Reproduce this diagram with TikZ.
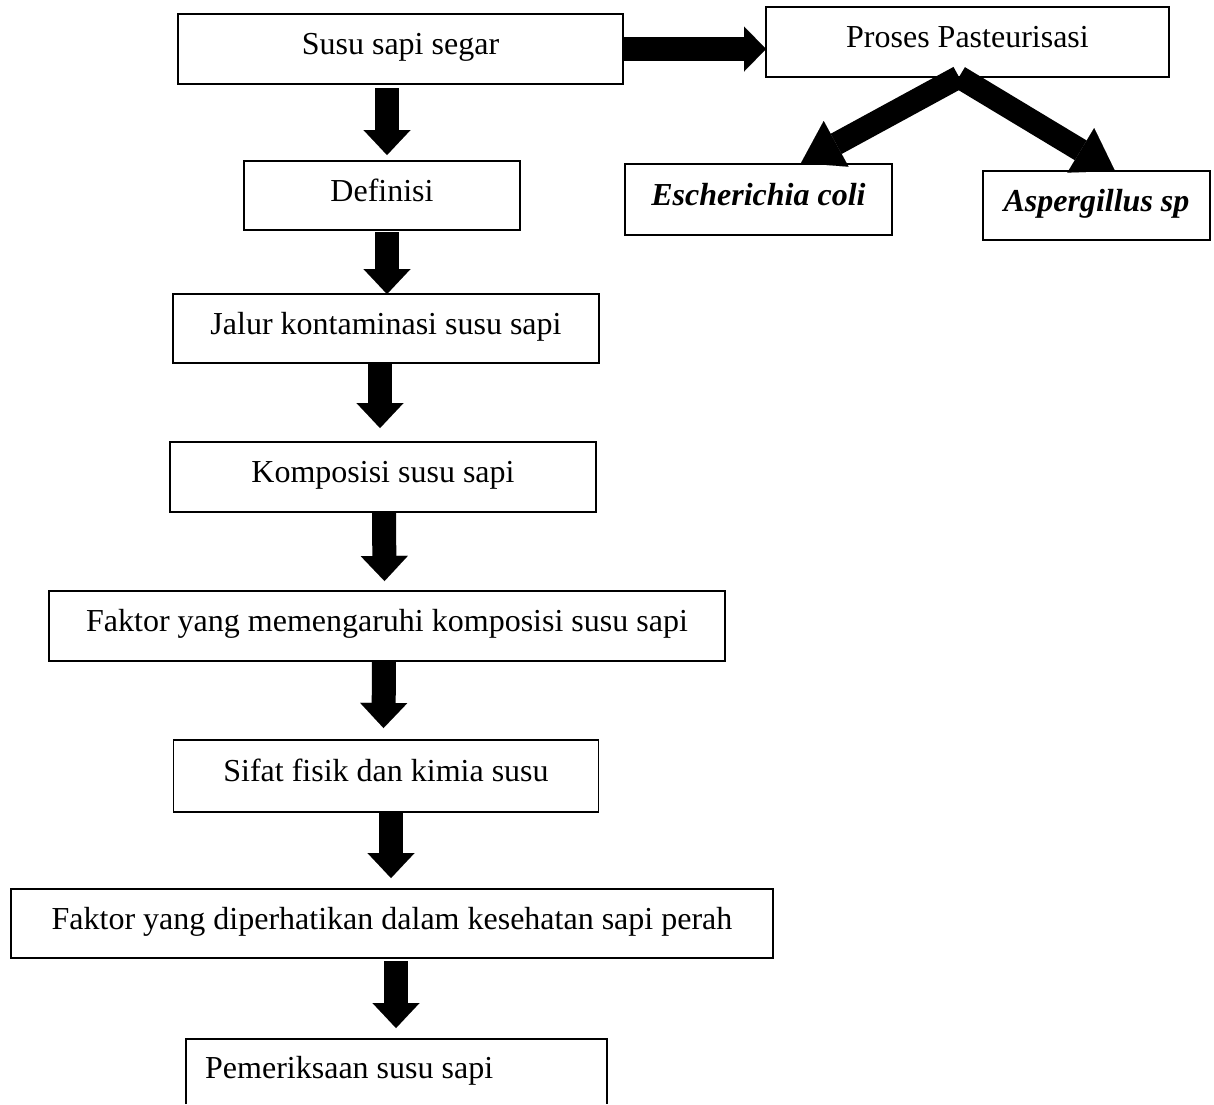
\documentclass[tikz,border=0pt]{standalone}
\usepackage{fontspec}
\setmainfont{Liberation Serif}
\usetikzlibrary{arrows.meta}
\begin{document}
\begin{tikzpicture}[x=1pt,y=-1pt,
  txt/.style={font=\fontsize{32}{38}\selectfont},
  box/.style={txt, draw=black, line width=1.3pt, inner sep=0pt, outer sep=0pt, text height=20pt, text depth=9pt},
  blk/.style={line width=24pt, -{Triangle[width=47pt,length=25pt,line width=0.01pt]}},
  diag/.style={line width=23pt, -{Triangle[width=52pt,length=40pt,line width=0.01pt]}}]
\useasboundingbox[fill=white] (0,0) rectangle (1214,1104);

\node[box, minimum width=445pt, minimum height=70pt] (susu) at (400.5,49) {Susu sapi segar};
\node[box, minimum width=403pt, minimum height=70pt] (proses) at (967.5,42) {Proses Pasteurisasi};
\node[box, minimum width=276pt, minimum height=69pt] (def) at (382,195.5) {Definisi};
\node[box, minimum width=267pt, minimum height=71pt] (eco) at (758.5,199.5) {\bfseries\itshape Escherichia coli};
\node[box, minimum width=227pt, minimum height=69pt] (asp) at (1096.5,205.5) {\bfseries\itshape Aspergillus sp};
\node[box, minimum width=426pt, minimum height=69pt] (jalur) at (386,328.5) {Jalur kontaminasi susu sapi};
\node[box, minimum width=426pt, minimum height=70pt] (komp) at (383,477) {Komposisi susu sapi};
\node[box, minimum width=676pt, minimum height=70pt] (fak1) at (387,626) {Faktor yang memengaruhi komposisi susu sapi};
\node[box, minimum width=425pt, minimum height=72pt] (sifat) at (386,776) {Sifat fisik dan kimia susu};
\node[box, minimum width=762pt, minimum height=69pt] (fak2) at (392,923.5) {Faktor yang diperhatikan dalam kesehatan sapi perah};
\node[inner sep=0pt, outer sep=0pt, minimum width=421pt, minimum height=65pt] (pem) at (396.5,1071.5) {};
\draw[line width=1.3pt] (pem.south west) -- (pem.north west) -- (pem.north east) -- (pem.south east);
\node[txt, anchor=base west, inner sep=0pt] (pemtxt) at (205,1078) {Pemeriksaan susu sapi};

% horizontal arrow
\draw[blk, -{Triangle[width=45pt,length=22pt,line width=0.01pt]}] (susu.east) -- (susu.east -| proses.west);
% diagonal arrows
\draw[diag] ([shift={(-8.5,0)}]proses.south) -- ([shift={(42.5,-1)}]eco.north);
\draw[diag] ([shift={(-8.5,0)}]proses.south) -- ([shift={(18.5,0)}]asp.north);
% vertical arrows
\draw[blk] ([shift={(-13.5,4)}]susu.south) -- ([shift={(5,-6)}]def.north);
\draw[blk] ([shift={(5,2)}]def.south) -- ([shift={(1,0)}]jalur.north);
\draw[blk] ([shift={(-6,0)}]jalur.south) -- ([shift={(-3,-14)}]komp.north);
\draw[blk] ([shift={(1,0)}]komp.south) -- ([shift={(-2.5,-10)}]fak1.north);
\draw[blk] ([shift={(-3,0)}]fak1.south) -- ([shift={(-2.5,-12)}]sifat.north);
\draw[blk] ([shift={(5,0)}]sifat.south) -- ([shift={(-1,-11)}]fak2.north);
\draw[blk] ([shift={(4,3)}]fak2.south) -- ([shift={(-0.5,-11)}]pem.north);
\end{tikzpicture}
\end{document}
